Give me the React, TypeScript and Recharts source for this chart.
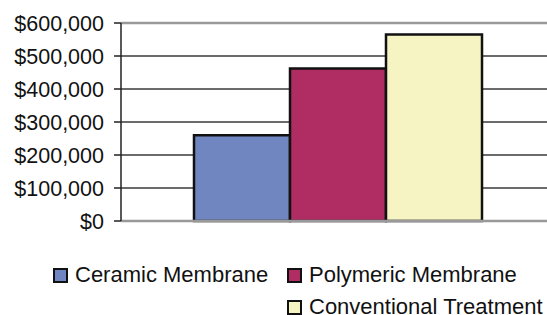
import { BarChart, Bar, XAxis, YAxis, CartesianGrid, ReferenceLine } from "recharts";

const seriesNames = ["Ceramic Membrane", "Polymeric Membrane", "Conventional Treatment"];
const seriesValues = [260000, 462000, 565000];
const seriesColors = ["#6f86c1", "#b02d63", "#f7f4c3"];
const yTicks = [0, 100000, 200000, 300000, 400000, 500000, 600000];

const row: Record<string, string | number> = { name: "Cost" };
seriesNames.forEach((n, i) => {
  row[n] = seriesValues[i];
});
const chartData = [row];

const fmt = (v: number) => "$" + v.toLocaleString("en-US");

function LegendItem({ i }: { i: number }) {
  return (
    <div style={{ display: "flex", alignItems: "center", height: 32, whiteSpace: "nowrap" }}>
      <span
        style={{
          width: 11,
          height: 11,
          border: "2px solid #111",
          background: seriesColors[i],
          marginRight: 7,
          display: "inline-block",
          flex: "none",
        }}
      />
      <span>{seriesNames[i]}</span>
    </div>
  );
}

export default function App() {
  return (
    <div
      style={{
        position: "absolute",
        left: 0,
        top: 0,
        width: 547,
        height: 315,
        overflow: "hidden",
        fontFamily: "'Liberation Sans', Arial, sans-serif",
        background: "#fff",
      }}
    >
      <BarChart
        width={547}
        height={315}
        data={chartData}
        margin={{ top: 23, right: 0, left: 0, bottom: 93 }}
        barGap={0}
      >
        <CartesianGrid vertical={false} stroke="#3a3a3a" strokeWidth={1.5} />
        <XAxis
          dataKey="name"
          tick={false}
          tickLine={false}
          height={1}
          stroke="#999"
          strokeWidth={2.5}
          padding={{ left: 7, right: 0 }}
        />
        <YAxis
          domain={[0, 600000]}
          ticks={yTicks}
          interval={0}
          width={121}
          tickFormatter={fmt}
          tickSize={7}
          tickMargin={10}
          stroke="#222"
          strokeWidth={1.5}
          tick={{ fill: "#111", fontSize: 21.5 }}
        />
        <ReferenceLine y={600000} stroke="#999" strokeWidth={2.5} />
        {seriesNames.map((n, i) => (
          <Bar
            key={n}
            dataKey={n}
            fill={seriesColors[i]}
            stroke="#111"
            strokeWidth={2.5}
            barSize={96}
            isAnimationActive={false}
          />
        ))}
      </BarChart>
      <div
        style={{
          position: "absolute",
          left: 53,
          top: 259,
          display: "flex",
          fontSize: 22,
          color: "#111",
        }}
      >
        <div style={{ width: 234 }}>
          <LegendItem i={0} />
        </div>
        <div>
          <LegendItem i={1} />
          <LegendItem i={2} />
        </div>
      </div>
    </div>
  );
}
